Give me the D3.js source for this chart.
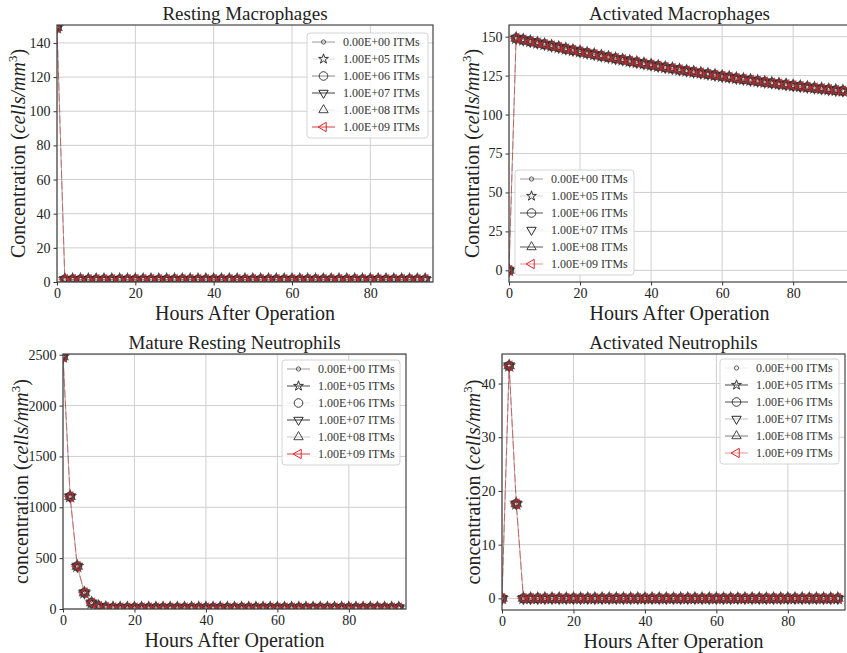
<!DOCTYPE html>
<html>
<head>
<meta charset="utf-8">
<script src="https://cdn.jsdelivr.net/npm/d3@7"></script>
<style>
  body { margin: 0; background: #fff; }
  svg { display: block; font-family: "Liberation Serif", "DejaVu Serif", serif; }
  .grid line { stroke: #cfcfcf; stroke-width: 1; }
  .tick text { fill: #222; }
</style>
</head>
<body>
<svg></svg>
<script>
// sampling times (hours after operation), one marker every 2 h
var hours = [0, 2, 4, 6, 8, 10, 12, 14, 16, 18, 20, 22, 24, 26, 28, 30, 32, 34, 36, 38,
  40, 42, 44, 46, 48, 50, 52, 54, 56, 58, 60, 62, 64, 66, 68, 70, 72, 74, 76, 78,
  80, 82, 84, 86, 88, 90, 92, 94];

// ITM doses (the six curves coincide in every panel)
var itmDoses = ["0.00E+00 ITMs", "1.00E+05 ITMs", "1.00E+06 ITMs",
  "1.00E+07 ITMs", "1.00E+08 ITMs", "1.00E+09 ITMs"];

var restingMacrophages = [149, 1.5, 1.5, 1.5, 1.5, 1.5, 1.5, 1.5, 1.5, 1.5, 1.5, 1.5, 1.5, 1.5, 1.5, 1.5, 1.5, 1.5, 1.5, 1.5,
  1.5, 1.5, 1.5, 1.5, 1.5, 1.5, 1.5, 1.5, 1.5, 1.5, 1.5, 1.5, 1.5, 1.5, 1.5, 1.5, 1.5, 1.5, 1.5, 1.5,
  1.5, 1.5, 1.5, 1.5, 1.5, 1.5, 1.5, 1.5];

var activatedMacrophages = [0, 149.0, 148.0, 147.0, 146.0, 145.1, 144.1, 143.2, 142.2, 141.3,
  140.4, 139.5, 138.6, 137.7, 136.9, 136.0, 135.2, 134.3, 133.5, 132.7,
  131.9, 131.1, 130.3, 129.6, 128.8, 128.1, 127.4, 126.7, 126.0, 125.3,
  124.6, 124.0, 123.3, 122.7, 122.1, 121.5, 120.9, 120.3, 119.7, 119.2,
  118.6, 118.1, 117.6, 117.1, 116.6, 116.1, 115.6, 115.2];

var matureRestingNeutrophils = [2480, 1105, 420, 160, 60, 26, 16, 13, 12, 12, 12, 12, 12, 12, 12, 12, 12, 12, 12, 12,
  12, 12, 12, 12, 12, 12, 12, 12, 12, 12, 12, 12, 12, 12, 12, 12, 12, 12, 12, 12,
  12, 12, 12, 12, 12, 12, 12, 12];

var activatedNeutrophils = [0, 43.3, 17.6, 0, 0, 0, 0, 0, 0, 0, 0, 0, 0, 0, 0, 0, 0, 0, 0, 0,
  0, 0, 0, 0, 0, 0, 0, 0, 0, 0, 0, 0, 0, 0, 0, 0, 0, 0, 0, 0,
  0, 0, 0, 0, 0, 0, 0, 0];

// tick labels
var hourTicks = [0, 20, 40, 60, 80];
var restingMacTicks = [0, 20, 40, 60, 80, 100, 120, 140];
var activatedMacTicks = [0, 25, 50, 75, 100, 125, 150];
var restingNeuTicks = [0, 500, 1000, 1500, 2000, 2500];
var activatedNeuTicks = [0, 10, 20, 30, 40];

var svg = d3.select("svg").attr("width", 847).attr("height", 653);

var colors = ["#5a5a5a", "#333333", "#3c3c3c", "#2a2a2a", "#444444", "#d8262c"];
var symbols = [
  { type: d3.symbolCircle, size: 14, rot: 0 },
  { type: d3.symbolStar, size: 30, rot: 0 },
  { type: d3.symbolCircle, size: 58, rot: 0 },
  { type: d3.symbolTriangle, size: 38, rot: 180 },
  { type: d3.symbolTriangle, size: 38, rot: 0 },
  { type: d3.symbolTriangle, size: 38, rot: -90 }
];
// how visible each legend handle line is (varies per panel in the source figure)
var legendLineAlpha = [
  [0.6, 0.15, 0.6, 0.9, 0.1, 0.9],
  [0.6, 0.2, 0.9, 0.1, 0.9, 0.5],
  [0.6, 0.9, 0.1, 0.9, 0.3, 0.9],
  [0.1, 0.9, 0.9, 0.3, 0.7, 0.5]
];

var panels = [
  { title: "Resting Macrophages", yWord: "Concentration", values: restingMacrophages,
    yDomain: [0, 150.5], yTicks: restingMacTicks,
    l: 57, t: 25, r: 433, b: 282, yLabelX: 25, legend: { x: 307, y: 33, w: 121 } },
  { title: "Activated Macrophages", yWord: "Concentration", values: activatedMacrophages,
    yDomain: [-7.5, 157.5], yTicks: activatedMacTicks,
    l: 509, t: 25, r: 850, b: 282, yLabelX: 479, legend: { x: 515, y: 170, w: 119 } },
  { title: "Mature Resting Neutrophils", yWord: "concentration", values: matureRestingNeutrophils,
    yDomain: [0, 2507], yTicks: restingNeuTicks,
    l: 63, t: 354, r: 406, b: 609, yLabelX: 28, legend: { x: 282, y: 360, w: 118 } },
  { title: "Activated Neutrophils", yWord: "concentration", values: activatedNeutrophils,
    yDomain: [-2.17, 45.5], yTicks: activatedNeuTicks,
    l: 502, t: 354, r: 845, b: 610, yLabelX: 480, legend: { x: 720, y: 359, w: 119 } }
];

function symbolPath(i) {
  return d3.symbol().type(symbols[i].type).size(symbols[i].size)();
}

panels.forEach(function(p, pi) {
  var x = d3.scaleLinear().domain([0, 96]).range([p.l, p.r]);
  var y = d3.scaleLinear().domain(p.yDomain).range([p.b, p.t]);
  var g = svg.append("g");

  var clipId = "clip" + pi;
  svg.append("clipPath").attr("id", clipId)
    .append("rect").attr("x", p.l).attr("y", p.t).attr("width", p.r - p.l).attr("height", p.b - p.t);

  // grid
  var grid = g.append("g").attr("class", "grid");
  grid.selectAll(".gx").data(hourTicks).enter().append("line")
    .attr("x1", d => x(d)).attr("x2", d => x(d)).attr("y1", p.t).attr("y2", p.b);
  grid.selectAll(".gy").data(p.yTicks).enter().append("line")
    .attr("x1", p.l).attr("x2", p.r).attr("y1", d => y(d)).attr("y2", d => y(d));

  // series (all six doses give the same curve)
  var plot = g.append("g").attr("clip-path", "url(#" + clipId + ")");
  var pts = hours.map((h, k) => [h, p.values[k]]);
  var line = d3.line().x(d => x(d[0])).y(d => y(d[1]));
  itmDoses.forEach(function(dose, si) {
    var red = si === 5;
    plot.append("path").datum(pts)
      .attr("d", line)
      .attr("fill", "none")
      .attr("stroke", colors[si])
      .attr("stroke-width", 1)
      .attr("stroke-opacity", red ? 0.55 : 0.1)
      .attr("stroke-dasharray", red ? "8,3" : null);
    plot.selectAll(".m" + si).data(pts).enter().append("path")
      .attr("d", symbolPath(si))
      .attr("transform", d => "translate(" + x(d[0]) + "," + y(d[1]) + ") rotate(" + symbols[si].rot + ")")
      .attr("fill", "none")
      .attr("stroke", colors[si])
      .attr("stroke-width", red ? 1.1 : 1.5)
      .attr("stroke-opacity", 0.85);
  });

  // axes
  var fmt = d3.format("d");
  var xAxis = d3.axisBottom(x).tickValues(hourTicks).tickFormat(fmt).tickSize(3.5).tickPadding(3);
  var yAxis = d3.axisLeft(y).tickValues(p.yTicks).tickFormat(fmt).tickSize(3.5).tickPadding(3);
  var gx = g.append("g").attr("transform", "translate(0," + p.b + ")").call(xAxis);
  var gy = g.append("g").attr("transform", "translate(" + p.l + ",0)").call(yAxis);
  [gx, gy].forEach(function(a) {
    a.select(".domain").remove();
    a.selectAll(".tick line").attr("stroke", "#333");
    a.selectAll(".tick text").attr("font-size", 14).attr("font-family", "Liberation Serif");
  });

  // frame
  g.append("rect").attr("x", p.l).attr("y", p.t).attr("width", p.r - p.l).attr("height", p.b - p.t)
    .attr("fill", "none").attr("stroke", "#444").attr("stroke-width", 1.2);

  // title and labels
  g.append("text").attr("x", (p.l + p.r) / 2).attr("y", p.t - 5)
    .attr("text-anchor", "middle").attr("font-size", 19).attr("fill", "#222").text(p.title);
  g.append("text").attr("x", (p.l + p.r) / 2).attr("y", p.b + 38)
    .attr("text-anchor", "middle").attr("font-size", 20).attr("fill", "#222").text("Hours After Operation");
  var yl = g.append("text")
    .attr("transform", "translate(" + p.yLabelX + "," + (p.t + p.b) / 2 + ") rotate(-90)")
    .attr("text-anchor", "middle").attr("font-size", 20).attr("fill", "#222");
  yl.append("tspan").text(p.yWord + " (");
  yl.append("tspan").attr("font-style", "italic").text("cells/mm");
  yl.append("tspan").attr("font-size", 13).attr("dy", -8).text("3");
  yl.append("tspan").attr("dy", 8).text(")");

  // legend
  var lg = g.append("g").attr("transform", "translate(" + p.legend.x + "," + p.legend.y + ")");
  lg.append("rect").attr("width", p.legend.w).attr("height", 105).attr("rx", 3)
    .attr("fill", "#fff").attr("fill-opacity", 0.85).attr("stroke", "#d4d4d4");
  itmDoses.forEach(function(dose, si) {
    var ry = 9 + si * 17;
    lg.append("line").attr("x1", 5).attr("x2", 28).attr("y1", ry).attr("y2", ry)
      .attr("stroke", colors[si]).attr("stroke-width", 1)
      .attr("stroke-opacity", legendLineAlpha[pi][si]);
    lg.append("path").attr("d", symbolPath(si))
      .attr("transform", "translate(16.5," + ry + ") rotate(" + symbols[si].rot + ")")
      .attr("fill", "none").attr("stroke", colors[si]).attr("stroke-width", 1);
    lg.append("text").attr("x", 36).attr("y", ry + 4).attr("font-size", 12)
      .attr("fill", "#333").text(dose);
  });
});
</script>
</body>
</html>
